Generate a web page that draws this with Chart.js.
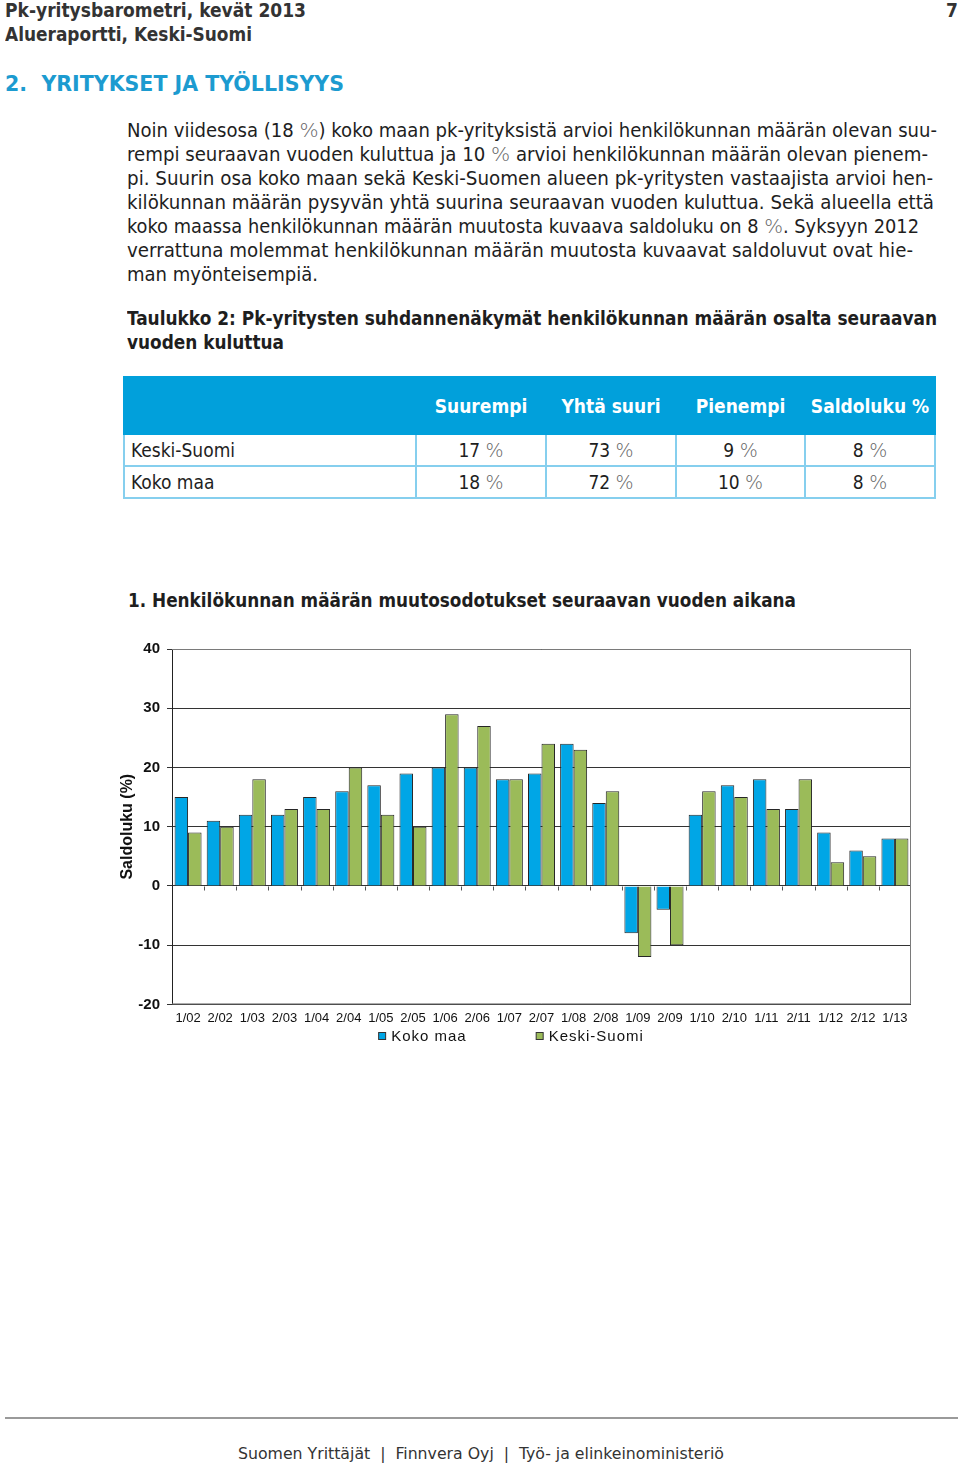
<!DOCTYPE html>
<html><head><meta charset="utf-8">
<script src="https://cdn.jsdelivr.net/npm/chart.js@4.4.1/dist/chart.umd.min.js"></script>
<style>
body{margin:0;width:960px;height:1466px;position:relative;background:#fff;font-family:'DejaVu Sans',sans-serif;font-stretch:condensed;color:#1e1e1e;overflow:hidden}
.t{position:absolute;white-space:nowrap;transform-origin:0 50%;height:24px;line-height:24px;font-size:19px}
.b{font-weight:bold}
.pc{color:#666;font-weight:300}
#tbl{position:absolute;left:123px;top:376px;border-collapse:collapse;table-layout:fixed;font-size:19px}
#tbl th{background:#01A0DB;color:#fff;font-weight:bold;height:55px;border:2px solid #01A0DB;border-left:2px solid #9ad8f2;text-align:center;padding:0;white-space:nowrap}
#tbl th:first-child{border-left:2px solid #01A0DB}
#tbl td{border:2px solid #86CFEE;padding:0 0 0 6px;height:30px;white-space:nowrap;color:#1e1e1e}
#tbl td.v{text-align:center;padding:0}
#chartBox{position:absolute;left:110px;top:633px;width:810px;height:417px}
</style></head><body>

<div class="t b" data-w="301" style="left:5px;top:-2px;color:#333">Pk-yritysbarometri, kevät 2013</div>
<div class="t b" data-w="247" style="left:5px;top:22px;color:#333">Alueraportti, Keski-Suomi</div>
<div class="t b" style="left:946px;top:-2px;color:#333">7</div>
<div class="t b" data-w="339" style="left:5px;top:71px;height:26px;line-height:26px;font-size:22px;color:#1C9BD0">2.&nbsp;&nbsp;YRITYKSET JA TYÖLLISYYS</div>

<div class="t" data-w="810" style="left:127px;top:118px">Noin viidesosa (18 <span class="pc">%</span>) koko maan pk-yrityksistä arvioi henkilökunnan määrän olevan suu-</div>
<div class="t" data-w="801" style="left:127px;top:142px">rempi seuraavan vuoden kuluttua ja 10 <span class="pc">%</span> arvioi henkilökunnan määrän olevan pienem-</div>
<div class="t" data-w="806" style="left:127px;top:166px">pi. Suurin osa koko maan sekä Keski-Suomen alueen pk-yritysten vastaajista arvioi hen-</div>
<div class="t" data-w="807" style="left:127px;top:190px">kilökunnan määrän pysyvän yhtä suurina seuraavan vuoden kuluttua. Sekä alueella että</div>
<div class="t" data-w="792" style="left:127px;top:214px">koko maassa henkilökunnan määrän muutosta kuvaava saldoluku on 8 <span class="pc">%</span>. Syksyyn 2012</div>
<div class="t" data-w="786" style="left:127px;top:238px">verrattuna molemmat henkilökunnan määrän muutosta kuvaavat saldoluvut ovat hie-</div>
<div class="t" data-w="191" style="left:127px;top:262px">man myönteisempiä.</div>

<div class="t b" data-w="810" style="left:127px;top:306px">Taulukko 2: Pk-yritysten suhdannenäkymät henkilökunnan määrän osalta seuraavan</div>
<div class="t b" data-w="157" style="left:127px;top:330px">vuoden kuluttua</div>

<table id="tbl"></table>

<div class="t b" data-w="668" style="left:128px;top:588px">1. Henkilökunnan määrän muutosodotukset seuraavan vuoden aikana</div>

<div id="chartBox"><canvas id="c" width="810" height="417"></canvas></div>

<div style="position:absolute;left:5px;top:1417px;width:953px;height:2px;background:#9a9a9a"></div>
<div class="t" data-w="486" style="left:238px;top:1442px;font-size:16px;color:#333">Suomen Yrittäjät&nbsp;&nbsp;|&nbsp;&nbsp;Finnvera Oyj&nbsp;&nbsp;|&nbsp;&nbsp;Työ- ja elinkeinoministeriö</div>

<script>
// ---- data ----
const categories = ['1/02','2/02','1/03','2/03','1/04','2/04','1/05','2/05','1/06','2/06','1/07','2/07','1/08','2/08','1/09','2/09','1/10','2/10','1/11','2/11','1/12','2/12','1/13'];
const kokoMaa    = [15,11,12,12,15,16,17,19,20,20,18,19,24,14,-8,-4,12,17,18,13,9,6,8];
const keskiSuomi = [9,10,18,13,13,20,12,10,29,27,18,24,23,16,-12,-10,16,15,13,18,4,5,8];
const seriesNames = ['Koko maa','Keski-Suomi'];
const yAxisTitle = 'Saldoluku (%)';
const yMin = -20, yMax = 40, yStep = 10;

const tableColumns = ['Suurempi','Yhtä suuri','Pienempi','Saldoluku %'];
const tableRowNames = ['Keski-Suomi','Koko maa'];
const tableKeskiSuomi = [17,73,9,8];
const tableKokoMaa = [18,72,10,8];

// ---- table ----
(function(){
  const widths=[292,130,130,129,130];
  const tbl=document.getElementById('tbl');
  let html='<colgroup>'+widths.map(w=>'<col style="width:'+w+'px">').join('')+'</colgroup>';
  html+='<tr><th></th>'+tableColumns.map(c=>'<th>'+c+'</th>').join('')+'</tr>';
  [tableKeskiSuomi,tableKokoMaa].forEach((row,i)=>{
    html+='<tr><td>'+tableRowNames[i]+'</td>'+row.map(v=>'<td class="v">'+v+' <span class="pc">%</span></td>').join('')+'</tr>';
  });
  tbl.innerHTML=html;
})();

// ---- fit text lines ----
function fitText(){
  document.querySelectorAll('.t[data-w]').forEach(el=>{
    el.style.transform='none';
    const w=el.getBoundingClientRect().width;
    const target=+el.dataset.w;
    if(w>0) el.style.transform='scaleX('+(target/w)+')';
  });
}
fitText();
if(document.fonts&&document.fonts.ready) document.fonts.ready.then(fitText);

// ---- chart ----
const framePlugin={
  id:'frame',
  afterDraw(chart){
    const {ctx,chartArea:a,scales}=chart;
    ctx.save();
    // plot frame
    ctx.strokeStyle='#7a7a7a';ctx.lineWidth=1;
    ctx.beginPath();
    ctx.moveTo(a.left,a.top+0.5);ctx.lineTo(a.right-0.5,a.top+0.5);
    ctx.lineTo(a.right-0.5,a.bottom-0.5);ctx.lineTo(a.left,a.bottom-0.5);
    ctx.stroke();
    // category tick marks on zero line
    const y0=Math.round(scales.y.getPixelForValue(0))+0.5;
    const n=chart.data.labels.length;
    ctx.strokeStyle='#555';
    ctx.beginPath();
    for(let i=1;i<n;i++){
      const x=Math.round((scales.x.getPixelForValue(i-1)+scales.x.getPixelForValue(i))/2)+0.5;
      ctx.moveTo(x,y0);ctx.lineTo(x,y0+4);
    }
    ctx.stroke();
    // legend
    ctx.font='15px "Liberation Sans", Arial, sans-serif';
    if('letterSpacing' in ctx) ctx.letterSpacing='1px';
    const box=8, gapText=5, gapItem=69;
    const items=chart.data.datasets.map(d=>({text:d.label,color:d.backgroundColor,w:box+gapText+ctx.measureText(d.label).width}));
    const total=items.reduce((s,it)=>s+it.w,0)+gapItem*(items.length-1);
    let x=chart.width/2-4-total/2;
    const yc=403;
    items.forEach(it=>{
      ctx.fillStyle=it.color;
      ctx.fillRect(x+0.5,yc-box/2+0.5,box-1,box-1);
      ctx.strokeStyle='#333';ctx.lineWidth=1;
      ctx.strokeRect(x+0.5,yc-box/2+0.5,box-1,box-1);
      ctx.fillStyle='#111';ctx.textBaseline='middle';ctx.textAlign='left';
      ctx.fillText(it.text,x+box+gapText,yc+1);
      x+=it.w+gapItem;
    });
    ctx.restore();
  }
};

new Chart(document.getElementById('c'),{
  type:'bar',
  data:{
    labels:categories,
    datasets:[
      {label:seriesNames[0],data:kokoMaa,backgroundColor:'#00A6E6',borderColor:'#262626',borderWidth:1,categoryPercentage:0.84,barPercentage:1},
      {label:seriesNames[1],data:keskiSuomi,backgroundColor:'#9BBB59',borderColor:'#262626',borderWidth:1,categoryPercentage:0.84,barPercentage:1}
    ]
  },
  options:{
    responsive:false,animation:false,devicePixelRatio:1,
    layout:{padding:{top:13,right:9,bottom:18,left:0}},
    plugins:{legend:{display:false},tooltip:{enabled:false}},
    scales:{
      x:{
        grid:{display:false,drawTicks:false,tickLength:0},border:{display:false},
        ticks:{color:'#111',font:{family:'"Liberation Sans", Arial',size:13},padding:6,maxRotation:0,autoSkip:false}
      },
      y:{
        min:yMin,max:yMax,
        ticks:{stepSize:yStep,color:'#111',font:{family:'"Liberation Sans", Arial',size:15,weight:'bold'},padding:7},
        grid:{color:'#333',tickLength:5,drawTicks:true},
        border:{color:'#222'},
        title:{display:true,text:yAxisTitle,color:'#111',font:{family:'"Liberation Sans", Arial',size:16,weight:'bold'},padding:{top:8,bottom:0}},
        afterFit(s){s.width=62;}
      }
    }
  },
  plugins:[framePlugin]
});
</script>
</body></html>
